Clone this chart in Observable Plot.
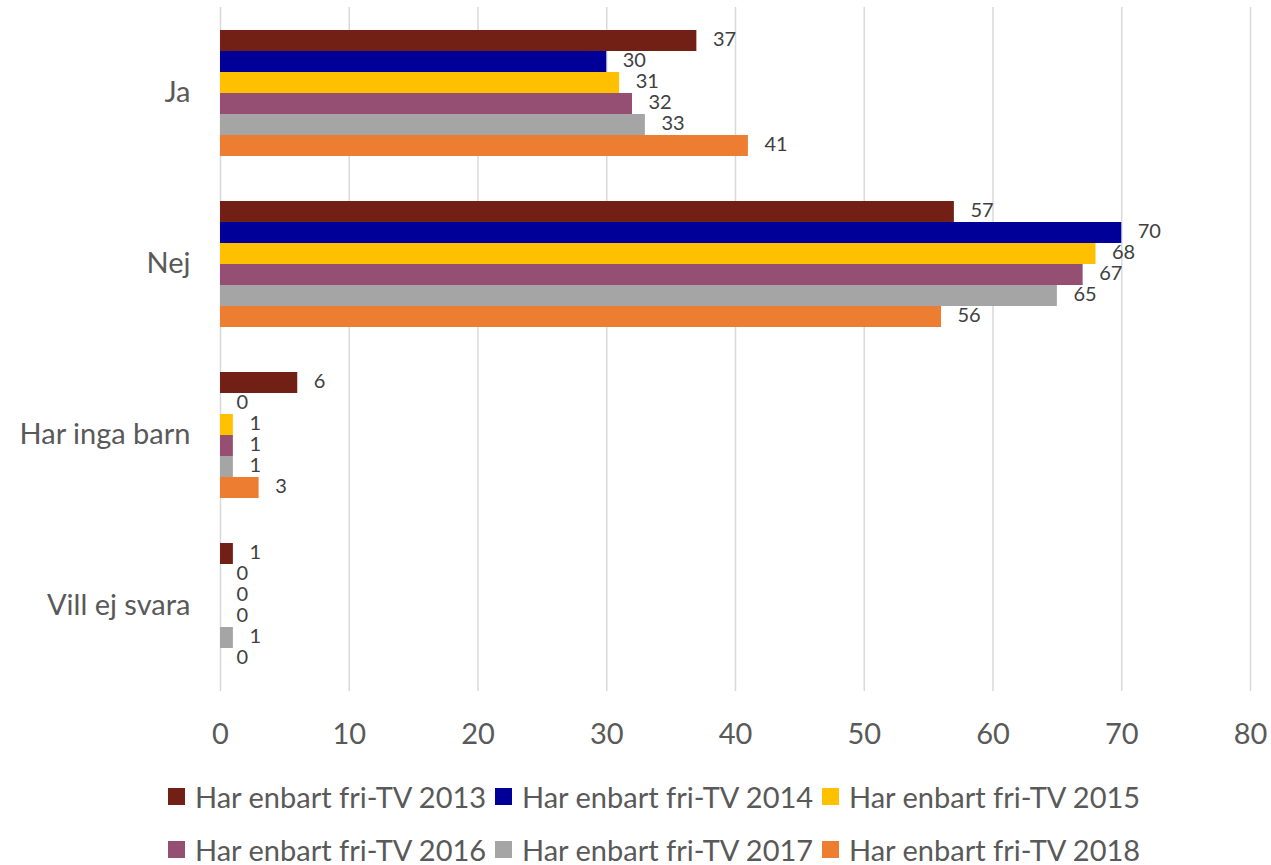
<!DOCTYPE html>
<html>
<head>
<meta charset="utf-8">
<script src="https://cdn.jsdelivr.net/npm/d3@7"></script>
<script src="https://cdn.jsdelivr.net/npm/@observablehq/plot@0.6"></script>
<style>
  html, body { margin: 0; padding: 0; background: #fff; }
  #chart svg { display: block; }
  .legend { font-family: Lato, "Open Sans", sans-serif; font-size: 29px; color: #595959; padding-left: 168px; }
  .legend .row { display: flex; height: 53px; align-items: center; }
  .legend .item { display: flex; align-items: center; width: 327px; white-space: nowrap; }
  .legend .sw { width: 17px; height: 17px; margin-right: 10px; flex: none; }
</style>
</head>
<body>
<div id="chart"></div>
<script>
const categories = ["Ja", "Nej", "Har inga barn", "Vill ej svara"];
const series = ["Har enbart fri-TV 2013", "Har enbart fri-TV 2014", "Har enbart fri-TV 2015", "Har enbart fri-TV 2016", "Har enbart fri-TV 2017", "Har enbart fri-TV 2018"];
const colors = ["#722015", "#000099", "#FFC000", "#954F72", "#A5A5A5", "#ED7D31"];
const values2013 = [37, 57, 6, 1];
const values2014 = [30, 70, 0, 0];
const values2015 = [31, 68, 1, 0];
const values2016 = [32, 67, 1, 0];
const values2017 = [33, 65, 1, 1];
const values2018 = [41, 56, 3, 0];
const xTicks = [0, 10, 20, 30, 40, 50, 60, 70, 80];

const seriesValues = [values2013, values2014, values2015, values2016, values2017, values2018];
const data = [];
categories.forEach((c, i) => {
  series.forEach((s, j) => {
    data.push({cat: c, series: s, value: seriesValues[j][i]});
  });
});

const chart = Plot.plot({
  width: 1271,
  height: 770,
  marginTop: 7,
  marginBottom: 79,
  marginLeft: 220,
  marginRight: 21,
  style: {fontFamily: "Lato, 'Open Sans', sans-serif", color: "#595959", background: "#fff"},
  x: {domain: [0, 80], axis: null},
  y: {domain: series, axis: null, paddingInner: 0, paddingOuter: 0.9166},
  fy: {domain: categories, padding: 0, axis: null},
  color: {domain: series, range: colors},
  marks: [
    Plot.ruleX(xTicks, {stroke: "#d9d9d9", strokeWidth: 1.5}),
    Plot.barX(data, {fy: "cat", y: "series", x: "value", fill: "series"}),
    Plot.text(data, {fy: "cat", y: "series", x: "value", text: d => String(d.value), dx: 16, dy: -1, textAnchor: "start", fontSize: 20, fill: "#404040"}),
    Plot.axisX(xTicks, {tickSize: 0, tickPadding: 32, fontSize: 29, fill: "#595959", label: null}),
    Plot.axisFy({anchor: "left", tickSize: 0, tickPadding: 30, fontSize: 29, label: null, fill: "#595959"})
  ]
});
document.getElementById("chart").appendChild(chart);

const legend = document.createElement("div");
legend.className = "legend";
for (let r = 0; r < 2; r++) {
  const row = document.createElement("div");
  row.className = "row";
  for (let k = 0; k < 3; k++) {
    const idx = r * 3 + k;
    const item = document.createElement("div");
    item.className = "item";
    const sw = document.createElement("span");
    sw.className = "sw";
    sw.style.background = colors[idx];
    const tx = document.createElement("span");
    tx.textContent = series[idx];
    item.appendChild(sw);
    item.appendChild(tx);
    row.appendChild(item);
  }
  legend.appendChild(row);
}
document.getElementById("chart").appendChild(legend);
</script>
</body>
</html>
